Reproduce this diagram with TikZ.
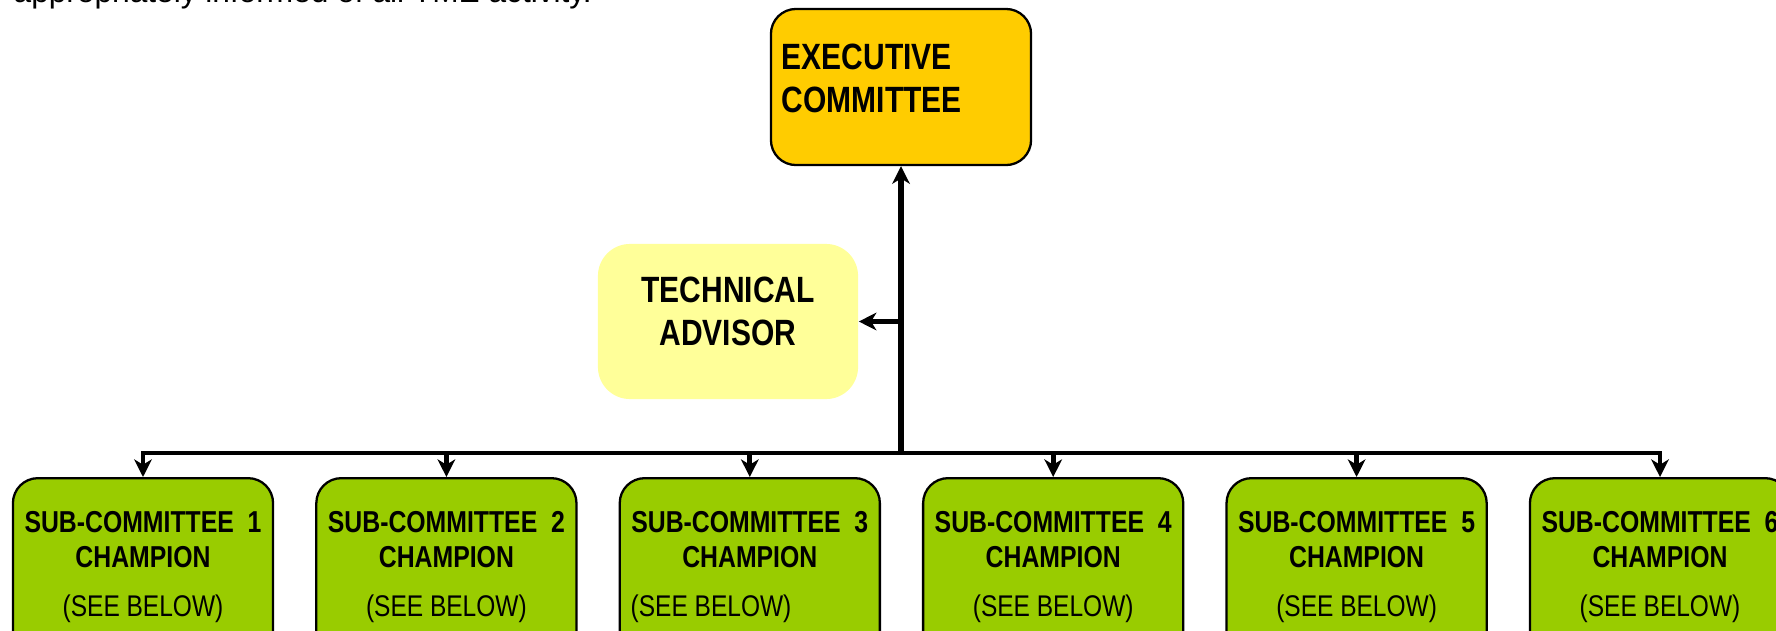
\documentclass[tikz,border=0pt]{standalone}
\usepackage{fontspec}
\setmainfont{Liberation Sans}
\newfontfamily\narrowfont[FakeStretch=0.82]{Liberation Sans}
\usetikzlibrary{arrows.meta}
\usetikzlibrary{calc}
\definecolor{gold1}{RGB}{255, 204, 0}
\definecolor{yellow1}{RGB}{255, 255, 153}
\definecolor{green1}{RGB}{153, 204, 0}

\begin{document}
\begin{tikzpicture}[x=0.01cm, y=-0.01cm,
  box/.style={rectangle, rounded corners=0.25cm, draw=black, line width=0.65pt, minimum width=2.6cm},
  headtext/.style={inner sep=0pt, font=\narrowfont\bfseries\fontsize{10.4}{12.2}\selectfont},
  subtext/.style={inner sep=0pt, align=center, font=\narrowfont\bfseries\fontsize{8.6}{10}\selectfont},
  seetext/.style={inner sep=0pt, anchor=base, font=\narrowfont\fontsize{8.5}{10}\selectfont},
  tip/.style={-{Stealth[length=5pt,width=5pt,inset=1.5pt]}}]
  \useasboundingbox (0,0) rectangle (1776,630);
  \node[anchor=base west, inner sep=0pt, font=\fontsize{9}{11}\selectfont] (intro) at (13,2.5) {appropriately informed of all TME activity.};

  \node[box, fill=gold1, minimum height=1.56cm] (exec) at (901,87) {};
  \node[headtext, anchor=north west, align=left] (exectext) at (781,43) {EXECUTIVE\\COMMITTEE};
  \node[rectangle, rounded corners=0.32cm, fill=yellow1, minimum width=2.6cm, minimum height=1.55cm] (tech) at (728,321.5) {};
  \node[headtext, anchor=north, align=center] (techtext) at (728,276) {TECHNICAL\\ADVISOR};

  \foreach \i/\x in {1/143, 2/446.4, 3/749.8, 4/1053.2, 5/1356.6, 6/1660} {
    \node[box, fill=green1, minimum height=1.9cm, anchor=north] (sub\i) at (\x,477) {};
    \node[subtext, anchor=north] (subtext\i) at (\x,511) {SUB-COMMITTEE~~\i\\CHAMPION};
  }
  \foreach \i/\x in {1/143, 2/446.4, 4/1053.2, 5/1356.6, 6/1660}
    \node[seetext] (see\i) at (\x,616) {(SEE BELOW)};
  \node[seetext, anchor=base west] (see3) at (630,616) {(SEE BELOW)};

  \coordinate (join) at (901,453);
  \draw[line width=1.7pt, tip] (join) -- (exec.south);
  \draw[line width=1.3pt, tip] (exec.south |- tech.east) -- (tech.east);
  \draw[line width=1.4pt, line cap=rect] (sub1.north |- join) -- (sub6.north |- join);
  \foreach \i in {1,...,6}
    \draw[line width=1.4pt, tip] (sub\i.north |- join) -- (sub\i.north);
\end{tikzpicture}
\end{document}
